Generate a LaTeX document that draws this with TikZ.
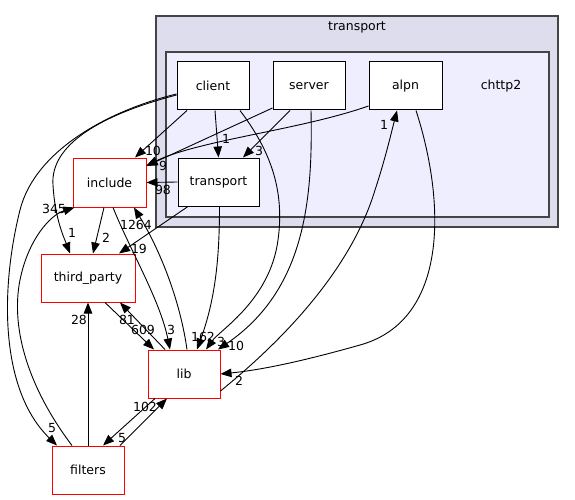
\documentclass[tikz,border=0pt]{standalone}
\usepackage{fontspec}
\setmainfont{DejaVu Sans}
\usetikzlibrary{arrows.meta}
\definecolor{outerfill}{HTML}{DDDDEE}
\definecolor{innerfill}{HTML}{EEEEFF}
\definecolor{clborder}{HTML}{444444}
\begin{document}
\begin{tikzpicture}[x=1pt,y=-1pt,
  every node/.style={font=\fontsize{12.5}{14}\selectfont},
  dirbox/.style={draw=black,fill=white,line width=1pt,minimum width=72pt,minimum height=48pt,inner sep=0pt},
  extbox/.style={draw=red,fill=white,line width=1pt,minimum width=72pt,minimum height=48pt,inner sep=0pt},
  cluster/.style={draw=clborder,line width=1.3pt},
  lbl/.style={inner sep=0pt,font=\fontsize{12.5}{14}\selectfont},
  dep/.style={draw=black,line width=0.9pt,-{Triangle[length=11pt,width=8.5pt]}}]
\useasboundingbox (0,0) rectangle (575,500);
% clusters
\filldraw[cluster,fill=outerfill] (156,16) rectangle (558,227);
\node[lbl] (ctransport) at (357,27) {transport};
\filldraw[cluster,fill=innerfill] (166,52) rectangle (549,217);
\node[lbl] (cchttp2) at (501,86) {chttp2};
% nodes
\node[dirbox] (client) at (213,86) {client};
\node[dirbox] (server) at (309,86) {server};
\node[dirbox,minimum width=73pt] (alpn) at (405.5,86) {alpn};
\node[dirbox,minimum width=81pt] (transport) at (218.5,182) {transport};
\node[extbox,minimum width=73pt,minimum height=49pt] (include) at (109.5,182.5) {include};
\node[extbox,minimum width=94pt] (third) at (88,278) {third\_party};
\node[extbox] (lib) at (184,374) {lib};
\node[extbox] (filters) at (88,470) {filters};
% edges
\draw[dep] ([xshift=-26pt]client.south) -- ([xshift=25.5pt]include.north);
\draw[dep] ([xshift=2pt]client.south) -- (transport.north);
\draw[dep] ([yshift=-9pt]client.west) .. controls (100,115) and (50,145) .. (53,185) .. controls (55,220) and (65,240) .. ([xshift=-18pt]third.north);
\draw[dep] ([yshift=-8pt]client.west) .. controls (110,110) and (35,150) .. (20,210) .. controls (0,290) and (0,390) .. ([xshift=-31pt]filters.north);
\draw[dep] ([xshift=-16pt]filters.north) .. controls (30,390) and (10,330) .. (20,280) .. controls (28,240) and (50,215) .. ([xshift=2pt]include.south west);
\draw[dep] ([xshift=27pt]client.south) .. controls (270,150) and (285,190) .. (278,240) .. controls (270,300) and (220,330) .. ([xshift=22pt]lib.north);
\draw[dep] ([yshift=-22pt]server.west) -- ([yshift=16.5pt]include.east);
\draw[dep] ([yshift=-20pt]alpn.west) .. controls (300,130) and (200,140) .. ([yshift=17pt]include.east);
\draw[dep] ([xshift=-19pt]server.south) -- ([xshift=24.5pt]transport.north);
\draw[dep] ([xshift=2pt]server.south) .. controls (313,200) and (305,290) .. ([xshift=34pt]lib.north);
\draw[dep] ([xshift=10.5pt]alpn.south) .. controls (445,200) and (450,320) .. (360,345) .. controls (300,362) and (260,370) .. (lib.east);
\draw[dep] ([yshift=-17pt]lib.east) .. controls (320,310) and (360,240) .. (375,190) .. controls (385,160) and (392,130) .. ([xshift=-8.5pt]alpn.south);
\draw[dep] (transport.west) -- (include.east);
\draw[dep] ([xshift=-30.5pt]transport.south) -- ([xshift=31pt]third.north);
\draw[dep] ([xshift=1pt]transport.south) .. controls (219.5,260) and (215,300) .. ([xshift=13pt]lib.north);
\draw[dep] ([xshift=-5.5pt]include.south) -- ([xshift=5pt]third.north);
\draw[dep] ([xshift=3.5pt]include.south) .. controls (130,250) and (160,300) .. ([xshift=-14pt]lib.north);
\draw[dep] ([xshift=3pt]lib.north) .. controls (180,300) and (160,250) .. ([xshift=24.5pt]include.south);
\draw[dep] ([xshift=17pt]third.south) -- ([xshift=-30pt]lib.north);
\draw[dep] ([xshift=-19pt]lib.north) -- ([xshift=32pt]third.south);
\draw[dep] (filters.north) -- (third.south);
\draw[dep] ([xshift=32pt]filters.north) -- ([xshift=-17pt]lib.south);
\draw[dep] ([xshift=-29pt]lib.south) -- ([xshift=15pt]filters.north);
% labels
\node[lbl] (l1) at (153,151) {10};
\node[lbl] (l2) at (226,139) {1};
\node[lbl] (l3) at (72,233) {1};
\node[lbl] (l4) at (52,428) {5};
\node[lbl] (l5) at (54,209) {345};
\node[lbl] (l6) at (221,342) {3};
\node[lbl] (l7) at (163,166) {9};
\node[lbl] (l8) at (259,151) {3};
\node[lbl] (l9) at (236,346) {10};
\node[lbl] (l10) at (239,381) {2};
\node[lbl] (l11) at (384,125) {1};
\node[lbl] (l12) at (163,190) {98};
\node[lbl] (l13) at (139,249) {19};
\node[lbl] (l14) at (203,337) {162};
\node[lbl] (l15) at (106,238) {2};
\node[lbl] (l16) at (171,330) {3};
\node[lbl] (l17) at (136,225) {1264};
\node[lbl] (l18) at (143,330) {609};
\node[lbl] (l19) at (127,320) {81};
\node[lbl] (l20) at (79,320) {28};
\node[lbl] (l21) at (145,407) {102};
\node[lbl] (l22) at (122,438) {5};
\end{tikzpicture}
\end{document}
